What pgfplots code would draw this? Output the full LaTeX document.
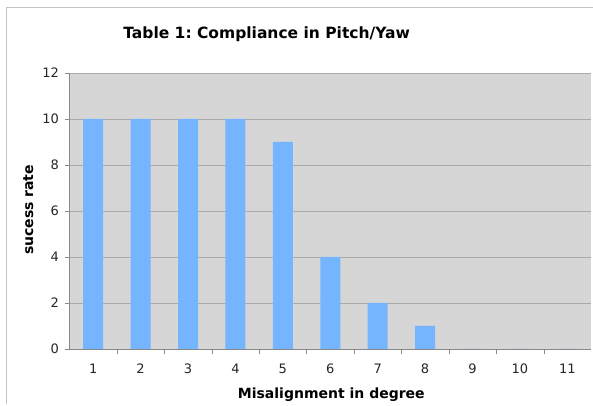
\documentclass[border=0pt]{standalone}
\usepackage{pgfplots}
\pgfplotsset{compat=1.18}
\usepackage{fontspec}
\setmainfont{DejaVu Sans}
\definecolor{barblue}{HTML}{75B5FF}
\definecolor{plotbg}{HTML}{D6D6D6}
\definecolor{gridc}{HTML}{AAAAAA}
\definecolor{framec}{HTML}{C4C4C4}
\frenchspacing
\begin{document}
\begin{tikzpicture}[x=1pt,y=1pt]
\path[use as bounding box] (0,0) rectangle (593,406);
\draw[framec,line width=1pt] (6.5,2) -- (6.5,398.5) -- (600,398.5);
\begin{axis}[
  at={(69.5pt,57pt)}, anchor=south west,
  scale only axis, width=521.5pt, height=276pt,
  xmin=0.5, xmax=11.5, ymin=0, ymax=12,
  axis background/.style={fill=plotbg},
  axis line style={draw=gridc!80!black},
  ybar, bar width=20pt,
  xtick={1,...,11},
  minor xtick={1.5,2.5,...,10.5},
  major x tick style={draw=none},
  minor x tick style={draw=gridc!80!black},
  ytick={0,2,...,12},
  y tick style={draw=gridc!80!black},
  tick align=outside,
  major tick length=5pt, minor tick length=5pt,
  ymajorgrids, major grid style={draw=gridc, line width=0.8pt},
  axis x line*=bottom, axis y line*=left,
  /pgf/number format/assume math mode=true,
  tick label style={font=\fontsize{13}{15}\selectfont, text=black!85},
  xticklabel style={yshift=-6pt},
  yticklabel style={xshift=-2pt},
  xlabel={\bfseries Misalignment in degree},
  ylabel={\bfseries sucess rate},
  label style={font=\fontsize{14}{16}\selectfont},
  xlabel style={at={(axis description cs:0.502,0)}, anchor=center, yshift=-46pt},
  ylabel style={at={(axis description cs:-0.079,0.504)}, anchor=center},
  title={\bfseries Table 1: Compliance in Pitch/Yaw},
  title style={font=\fontsize{15.5}{17}\selectfont, at={(axis description cs:0.378,1)}, anchor=center, yshift=33pt},
  clip=false,
]
\addplot[fill=barblue, draw=none] coordinates {
 (1,10) (2,10) (3,10) (4,10) (5,9) (6,4) (7,2) (8,1) (9,0) (10,0) (11,0)
};
\end{axis}
\end{tikzpicture}
\end{document}
